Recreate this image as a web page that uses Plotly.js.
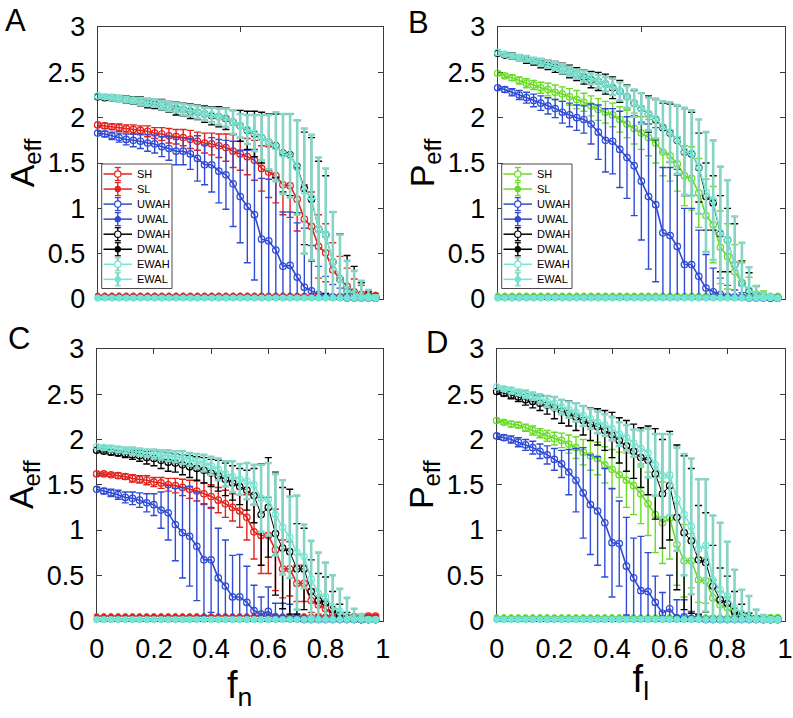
<!DOCTYPE html>
<html>
<head>
<meta charset="utf-8">
<script src="https://cdn.plot.ly/plotly-3.0.1.min.js"></script>
<style>
  html, body { margin: 0; padding: 0; background: #ffffff; }
  #chart { width: 793px; height: 718px; }
</style>
</head>
<body>
<div id="chart"></div>
<script>
// ---------------- data ----------------
const fVals = [0,0.025,0.05,0.075,0.1,0.125,0.15,0.175,0.2,0.225,0.25,0.275,0.3,0.325,0.35,0.375,0.4,0.425,0.45,0.475,
               0.5,0.525,0.55,0.575,0.6,0.625,0.65,0.675,0.7,0.725,0.75,0.775,0.8,0.825,0.85,0.875,0.9,0.925,0.95,0.975];

const seriesNames = ['SH','SL','UWAH','UWAL','DWAH','DWAL','EWAH','EWAL'];
const yTickVals = [0,0.5,1,1.5,2,2.5,3];
const yTickText = ['0','0.5','1','1.5','2','2.5','3'];
const xTickValsTop = [0,0.5,1];
const xTickValsBottom = [0,0.2,0.4,0.6,0.8,1];
const xTickTextBottom = ['0','0.2','0.4','0.6','0.8','1'];
const panelLetters = ['A','B','C','D'];

// Panel A (A_eff vs f_n)
const A_SH   = [1.92,1.91,1.90,1.89,1.88,1.87,1.86,1.85,1.83,1.82,1.80,1.79,1.78,1.76,1.74,1.72,1.71,1.69,1.67,1.63,1.60,1.57,1.53,1.44,1.40,1.36,1.26,1.25,1.10,0.88,0.80,0.58,0.51,0.32,0.22,0.14,0.08,0.05,0.04,0.03];
const A_SHe  = [0.02,0.03,0.03,0.04,0.04,0.05,0.05,0.06,0.06,0.07,0.08,0.08,0.09,0.10,0.10,0.11,0.12,0.13,0.15,0.18,0.18,0.20,0.22,0.25,0.28,0.30,0.33,0.35,0.35,0.38,0.38,0.35,0.32,0.30,0.25,0.20,0.14,0.10,0.06,0.03];
const A_SL   = [0.04,0.04,0.04,0.04,0.04,0.04,0.04,0.04,0.04,0.04,0.04,0.04,0.04,0.04,0.04,0.04,0.04,0.04,0.04,0.04,0.04,0.04,0.04,0.04,0.04,0.04,0.04,0.04,0.04,0.04,0.04,0.04,0.04,0.04,0.04,0.04,0.04,0.04,0.05,0.05];
const A_UWAH = [1.83,1.82,1.80,1.78,1.76,1.75,1.74,1.72,1.71,1.68,1.66,1.63,1.63,1.60,1.55,1.48,1.48,1.41,1.37,1.27,1.13,1.02,0.93,0.66,0.64,0.54,0.36,0.37,0.24,0.13,0.09,0.05,0.03,0.02,0.02,0.01,0.01,0.01,0.01,0.01];
const A_UWAHe= [0.02,0.03,0.04,0.05,0.06,0.07,0.08,0.09,0.10,0.11,0.13,0.15,0.15,0.17,0.25,0.22,0.30,0.35,0.38,0.47,0.51,0.62,0.72,0.67,0.68,0.80,0.60,0.59,0.60,0.65,0.50,0.31,0.22,0.14,0.10,0.05,0.03,0.02,0.02,0.01];
const A_UWAL = [0.02,0.02,0.02,0.02,0.02,0.02,0.02,0.02,0.02,0.02,0.02,0.02,0.02,0.02,0.02,0.02,0.02,0.02,0.02,0.02,0.02,0.02,0.02,0.02,0.02,0.02,0.02,0.02,0.02,0.02,0.02,0.02,0.02,0.02,0.02,0.02,0.02,0.02,0.02,0.02];
const A_DWAH = [2.23,2.22,2.22,2.21,2.20,2.19,2.18,2.16,2.15,2.14,2.12,2.10,2.09,2.07,2.06,2.04,2.02,2.01,1.99,1.95,1.91,1.86,1.82,1.78,1.73,1.69,1.61,1.59,1.46,1.22,1.10,0.77,0.71,0.41,0.22,0.10,0.06,0.03,0.02,0.01];
const A_DWAHe= [0.02,0.02,0.03,0.03,0.04,0.04,0.05,0.05,0.05,0.06,0.06,0.07,0.07,0.08,0.08,0.09,0.10,0.11,0.12,0.13,0.17,0.21,0.25,0.28,0.31,0.35,0.43,0.45,0.51,0.62,0.68,0.75,0.65,0.55,0.50,0.38,0.30,0.15,0.06,0.03];
const A_DWAL = [0.01,0.01,0.01,0.01,0.01,0.01,0.01,0.01,0.01,0.01,0.01,0.01,0.01,0.01,0.01,0.01,0.01,0.01,0.01,0.01,0.01,0.01,0.01,0.01,0.01,0.01,0.01,0.01,0.01,0.01,0.01,0.01,0.01,0.01,0.01,0.01,0.01,0.01,0.01,0.01];
const A_EWAH = [2.24,2.23,2.22,2.21,2.20,2.19,2.18,2.17,2.16,2.14,2.12,2.11,2.09,2.08,2.06,2.04,2.03,2.01,2.00,1.95,1.91,1.87,1.83,1.78,1.73,1.68,1.60,1.58,1.45,1.19,1.12,0.77,0.71,0.41,0.22,0.10,0.06,0.03,0.02,0.01];
const A_EWAHe= [0.02,0.02,0.02,0.03,0.03,0.03,0.04,0.04,0.04,0.05,0.05,0.05,0.06,0.06,0.07,0.07,0.08,0.09,0.10,0.13,0.13,0.16,0.20,0.25,0.30,0.38,0.44,0.46,0.52,0.69,0.69,0.79,0.73,0.55,0.49,0.32,0.25,0.17,0.08,0.03];
const A_EWAL = [0.01,0.01,0.01,0.01,0.01,0.01,0.01,0.01,0.01,0.01,0.01,0.01,0.01,0.01,0.01,0.01,0.01,0.01,0.01,0.01,0.01,0.01,0.01,0.01,0.01,0.01,0.01,0.01,0.01,0.01,0.01,0.01,0.01,0.01,0.01,0.01,0.01,0.01,0.01,0.01];

// Panel B (P_eff vs f_l)
const B_SH   = [2.49,2.46,2.44,2.41,2.38,2.36,2.33,2.31,2.28,2.26,2.23,2.20,2.17,2.13,2.09,2.06,2.03,1.98,1.93,1.88,1.83,1.78,1.72,1.62,1.58,1.49,1.36,1.33,1.17,0.92,0.82,0.57,0.47,0.30,0.18,0.09,0.05,0.03,0.02,0.02];
const B_SHe  = [0.02,0.02,0.03,0.04,0.05,0.05,0.06,0.07,0.08,0.08,0.09,0.10,0.10,0.11,0.12,0.12,0.13,0.14,0.15,0.17,0.18,0.20,0.22,0.26,0.28,0.30,0.33,0.35,0.38,0.40,0.42,0.40,0.36,0.30,0.22,0.15,0.10,0.06,0.03,0.02];
const B_SL   = [0.04,0.04,0.04,0.04,0.04,0.04,0.04,0.04,0.04,0.04,0.04,0.04,0.04,0.04,0.04,0.04,0.04,0.04,0.04,0.04,0.04,0.04,0.04,0.04,0.04,0.04,0.04,0.04,0.04,0.04,0.04,0.04,0.04,0.04,0.04,0.04,0.04,0.04,0.04,0.04];
const B_UWAH = [2.33,2.31,2.28,2.25,2.22,2.19,2.16,2.13,2.10,2.06,2.03,2.00,1.98,1.93,1.84,1.75,1.74,1.65,1.56,1.47,1.30,1.13,1.04,0.73,0.70,0.58,0.38,0.38,0.25,0.12,0.08,0.05,0.03,0.02,0.02,0.01,0.01,0.01,0.01,0.01];
const B_UWAHe= [0.02,0.03,0.04,0.05,0.06,0.07,0.08,0.09,0.10,0.12,0.13,0.14,0.15,0.22,0.30,0.35,0.36,0.42,0.45,0.55,0.65,0.80,0.85,0.72,0.75,0.85,0.62,0.62,0.51,0.37,0.26,0.18,0.12,0.08,0.05,0.03,0.02,0.02,0.01,0.01];
const B_UWAL = [0.02,0.02,0.02,0.02,0.02,0.02,0.02,0.02,0.02,0.02,0.02,0.02,0.02,0.02,0.02,0.02,0.02,0.02,0.02,0.02,0.02,0.02,0.02,0.02,0.02,0.02,0.02,0.02,0.02,0.02,0.02,0.02,0.02,0.02,0.02,0.02,0.02,0.02,0.02,0.02];
const B_DWAH = [2.71,2.69,2.68,2.66,2.64,2.62,2.60,2.58,2.56,2.54,2.51,2.48,2.45,2.42,2.40,2.37,2.33,2.29,2.23,2.16,2.10,2.04,1.98,1.89,1.83,1.75,1.62,1.60,1.45,1.13,1.06,0.72,0.65,0.38,0.17,0.09,0.04,0.02,0.01,0.01];
const B_DWAHe= [0.02,0.02,0.03,0.03,0.04,0.04,0.05,0.05,0.06,0.06,0.07,0.07,0.08,0.09,0.10,0.11,0.12,0.12,0.13,0.14,0.17,0.20,0.22,0.27,0.32,0.38,0.48,0.46,0.38,0.37,0.30,0.42,0.35,0.45,0.25,0.20,0.10,0.05,0.02,0.01];
const B_DWAL = [0.01,0.01,0.01,0.01,0.01,0.01,0.01,0.01,0.01,0.01,0.01,0.01,0.01,0.01,0.01,0.01,0.01,0.01,0.01,0.01,0.01,0.01,0.01,0.01,0.01,0.01,0.01,0.01,0.01,0.01,0.01,0.01,0.01,0.01,0.01,0.01,0.01,0.01,0.01,0.01];
const B_EWAH = [2.72,2.70,2.68,2.66,2.65,2.63,2.61,2.59,2.57,2.54,2.51,2.48,2.46,2.43,2.40,2.37,2.34,2.29,2.23,2.16,2.10,2.04,1.99,1.90,1.84,1.76,1.63,1.61,1.46,1.18,1.09,0.73,0.65,0.38,0.17,0.10,0.04,0.02,0.02,0.01];
const B_EWAHe= [0.02,0.02,0.02,0.03,0.03,0.03,0.04,0.04,0.04,0.05,0.05,0.05,0.06,0.06,0.07,0.08,0.09,0.10,0.12,0.15,0.17,0.18,0.22,0.28,0.33,0.38,0.48,0.47,0.52,0.66,0.66,0.73,0.66,0.53,0.45,0.25,0.10,0.05,0.02,0.01];
const B_EWAL = [0.01,0.01,0.01,0.01,0.01,0.01,0.01,0.01,0.01,0.01,0.01,0.01,0.01,0.01,0.01,0.01,0.01,0.01,0.01,0.01,0.01,0.01,0.01,0.01,0.01,0.01,0.01,0.01,0.01,0.01,0.01,0.01,0.01,0.01,0.01,0.01,0.01,0.01,0.01,0.01];

// Panel C (A_eff vs f_n)
const C_SH   = [1.62,1.62,1.61,1.60,1.59,1.57,1.56,1.55,1.53,1.52,1.50,1.49,1.47,1.45,1.43,1.40,1.37,1.33,1.29,1.25,1.21,1.14,0.98,0.94,0.94,0.78,0.57,0.57,0.41,0.41,0.22,0.17,0.13,0.08,0.05,0.04,0.04,0.04,0.05,0.05];
const C_SHe  = [0.02,0.02,0.02,0.03,0.03,0.04,0.04,0.05,0.05,0.06,0.07,0.08,0.09,0.10,0.11,0.12,0.13,0.14,0.15,0.15,0.18,0.25,0.30,0.42,0.42,0.45,0.32,0.30,0.20,0.20,0.13,0.10,0.08,0.05,0.03,0.02,0.02,0.01,0.01,0.01];
const C_SL   = [0.05,0.05,0.05,0.05,0.05,0.05,0.05,0.05,0.05,0.05,0.05,0.05,0.05,0.05,0.05,0.05,0.05,0.05,0.05,0.05,0.05,0.05,0.05,0.05,0.05,0.05,0.05,0.05,0.05,0.05,0.05,0.05,0.05,0.05,0.05,0.05,0.05,0.05,0.05,0.05];
const C_UWAH = [1.45,1.43,1.41,1.39,1.36,1.35,1.33,1.30,1.28,1.22,1.19,1.06,0.97,0.93,0.82,0.67,0.67,0.47,0.38,0.26,0.26,0.20,0.11,0.07,0.10,0.04,0.03,0.02,0.02,0.01,0.01,0.01,0.01,0.01,0.01,0.01,0.01,0.01,0.01,0.01];
const C_UWAHe= [0.02,0.03,0.04,0.05,0.06,0.07,0.08,0.10,0.12,0.20,0.30,0.40,0.50,0.55,0.60,0.62,0.58,0.55,0.51,0.46,0.47,0.40,0.28,0.19,0.27,0.15,0.16,0.16,0.05,0.03,0.02,0.02,0.01,0.01,0.01,0.01,0.01,0.01,0.01,0.01];
const C_UWAL = [0.02,0.02,0.02,0.02,0.02,0.02,0.02,0.02,0.02,0.02,0.02,0.02,0.02,0.02,0.02,0.02,0.02,0.02,0.02,0.02,0.02,0.02,0.02,0.02,0.02,0.02,0.02,0.02,0.02,0.02,0.02,0.02,0.02,0.02,0.02,0.02,0.02,0.02,0.02,0.02];
const C_DWAH = [1.88,1.87,1.86,1.85,1.84,1.83,1.82,1.80,1.79,1.77,1.75,1.74,1.72,1.70,1.68,1.66,1.63,1.60,1.56,1.52,1.48,1.44,1.38,1.17,1.25,0.96,0.80,0.76,0.57,0.57,0.32,0.22,0.20,0.12,0.06,0.03,0.02,0.01,0.01,0.01];
const C_DWAHe= [0.02,0.02,0.03,0.03,0.04,0.05,0.06,0.07,0.08,0.09,0.10,0.10,0.11,0.12,0.13,0.14,0.15,0.17,0.18,0.19,0.20,0.22,0.30,0.56,0.55,0.68,0.67,0.69,0.50,0.45,0.35,0.30,0.28,0.20,0.12,0.06,0.03,0.02,0.01,0.01];
const C_DWAL = [0.01,0.01,0.01,0.01,0.01,0.01,0.01,0.01,0.01,0.01,0.01,0.01,0.01,0.01,0.01,0.01,0.01,0.01,0.01,0.01,0.01,0.01,0.01,0.01,0.01,0.01,0.01,0.01,0.01,0.01,0.01,0.01,0.01,0.01,0.01,0.01,0.01,0.01,0.01,0.01];
const C_EWAH = [1.92,1.91,1.90,1.89,1.88,1.87,1.86,1.85,1.84,1.83,1.82,1.81,1.80,1.78,1.76,1.74,1.71,1.67,1.62,1.59,1.56,1.54,1.50,1.35,1.34,1.17,1.03,0.92,0.75,0.71,0.46,0.30,0.26,0.15,0.10,0.05,0.03,0.02,0.01,0.01];
const C_EWAHe= [0.02,0.02,0.03,0.03,0.03,0.04,0.04,0.04,0.05,0.05,0.06,0.06,0.07,0.07,0.08,0.09,0.10,0.12,0.14,0.17,0.17,0.20,0.22,0.37,0.40,0.45,0.52,0.45,0.63,0.35,0.42,0.45,0.38,0.35,0.25,0.20,0.10,0.05,0.02,0.01];
const C_EWAL = [0.01,0.01,0.01,0.01,0.01,0.01,0.01,0.01,0.01,0.01,0.01,0.01,0.01,0.01,0.01,0.01,0.01,0.01,0.01,0.01,0.01,0.01,0.01,0.01,0.01,0.01,0.01,0.01,0.01,0.01,0.01,0.01,0.01,0.01,0.01,0.01,0.01,0.01,0.01,0.01];

// Panel D (P_eff vs f_l)
const D_SH   = [2.21,2.19,2.17,2.16,2.13,2.10,2.07,2.04,2.01,1.99,1.95,1.91,1.86,1.82,1.79,1.72,1.67,1.61,1.55,1.49,1.40,1.29,1.17,1.08,1.13,0.84,0.66,0.66,0.45,0.44,0.25,0.17,0.14,0.06,0.03,0.02,0.02,0.02,0.03,0.03];
const D_SHe  = [0.02,0.02,0.03,0.03,0.04,0.05,0.05,0.06,0.07,0.08,0.10,0.12,0.14,0.16,0.18,0.20,0.22,0.25,0.30,0.32,0.33,0.35,0.42,0.45,0.45,0.45,0.40,0.30,0.25,0.25,0.20,0.15,0.12,0.08,0.04,0.02,0.02,0.01,0.01,0.01];
const D_SL   = [0.04,0.04,0.04,0.04,0.04,0.04,0.04,0.04,0.04,0.04,0.04,0.04,0.04,0.04,0.04,0.04,0.04,0.04,0.04,0.04,0.04,0.04,0.04,0.04,0.04,0.04,0.04,0.04,0.04,0.04,0.04,0.04,0.04,0.04,0.04,0.04,0.04,0.04,0.04,0.04];
const D_UWAH = [2.04,2.02,2.00,1.97,1.94,1.91,1.87,1.83,1.78,1.73,1.64,1.55,1.41,1.28,1.21,1.08,0.86,0.85,0.60,0.47,0.33,0.32,0.20,0.08,0.13,0.03,0.04,0.02,0.02,0.01,0.01,0.01,0.01,0.01,0.01,0.01,0.01,0.01,0.01,0.01];
const D_UWAHe= [0.02,0.03,0.04,0.05,0.06,0.07,0.08,0.10,0.12,0.15,0.25,0.35,0.50,0.55,0.60,0.60,0.60,0.47,0.54,0.44,0.60,0.43,0.29,0.23,0.37,0.20,0.19,0.08,0.04,0.02,0.02,0.01,0.01,0.01,0.01,0.01,0.01,0.01,0.01,0.01];
const D_UWAL = [0.02,0.02,0.02,0.02,0.02,0.02,0.02,0.02,0.02,0.02,0.02,0.02,0.02,0.02,0.02,0.02,0.02,0.02,0.02,0.02,0.02,0.02,0.02,0.02,0.02,0.02,0.02,0.02,0.02,0.02,0.02,0.02,0.02,0.02,0.02,0.02,0.02,0.02,0.02,0.02];
const D_DWAH = [2.53,2.51,2.49,2.47,2.44,2.42,2.40,2.38,2.35,2.31,2.29,2.25,2.21,2.17,2.14,2.10,2.05,1.99,1.93,1.87,1.80,1.77,1.62,1.40,1.49,1.14,0.97,0.88,0.67,0.64,0.38,0.23,0.19,0.10,0.06,0.03,0.02,0.01,0.01,0.01];
const D_DWAHe= [0.02,0.03,0.04,0.05,0.06,0.07,0.08,0.10,0.12,0.13,0.14,0.15,0.16,0.18,0.20,0.22,0.25,0.25,0.28,0.30,0.33,0.38,0.50,0.60,0.60,0.80,0.85,0.80,0.60,0.55,0.45,0.35,0.30,0.22,0.12,0.05,0.03,0.02,0.01,0.01];
const D_DWAL = [0.01,0.01,0.01,0.01,0.01,0.01,0.01,0.01,0.01,0.01,0.01,0.01,0.01,0.01,0.01,0.01,0.01,0.01,0.01,0.01,0.01,0.01,0.01,0.01,0.01,0.01,0.01,0.01,0.01,0.01,0.01,0.01,0.01,0.01,0.01,0.01,0.01,0.01,0.01,0.01];
const D_EWAH = [2.58,2.56,2.54,2.52,2.50,2.48,2.45,2.42,2.40,2.36,2.33,2.30,2.26,2.23,2.19,2.16,2.12,2.06,2.02,1.96,1.90,1.85,1.72,1.60,1.61,1.34,1.17,1.04,0.79,0.83,0.45,0.34,0.27,0.14,0.08,0.04,0.02,0.01,0.01,0.01];
const D_EWAHe= [0.02,0.02,0.03,0.03,0.04,0.04,0.05,0.06,0.07,0.08,0.09,0.10,0.11,0.11,0.12,0.12,0.13,0.13,0.14,0.15,0.20,0.27,0.34,0.46,0.45,0.57,0.67,0.75,0.77,0.73,0.71,0.74,0.60,0.42,0.26,0.23,0.10,0.05,0.02,0.01];
const D_EWAL = [0.01,0.01,0.01,0.01,0.01,0.01,0.01,0.01,0.01,0.01,0.01,0.01,0.01,0.01,0.01,0.01,0.01,0.01,0.01,0.01,0.01,0.01,0.01,0.01,0.01,0.01,0.01,0.01,0.01,0.01,0.01,0.01,0.01,0.01,0.01,0.01,0.01,0.01,0.01,0.01];

// ---------------- styling ----------------
const RED = '#e3221d', GREEN = '#68dc26', BLUE = '#2f4bd6', BLACK = '#000000', CYAN = '#72e6d3';
const CYAN_ERR = '#86d4c4';
const FONT = 'Liberation Sans, Arial, Helvetica, sans-serif';
const W = 793, H = 718;
const px = x => x / W;
const py = y => 1 - y / H;

// panel rectangles in pixels: [left, right, top, bottom]
const boxes = [[97.7,382.7,27,299],[497.7,785,27,299],[96.7,382.7,349,620.5],[496.7,785,349,620.5]];

const panels = [
  {H1:[A_SH,A_SHe], L1:A_SL, U:[A_UWAH,A_UWAHe], UL:A_UWAL, Dw:[A_DWAH,A_DWAHe], DL:A_DWAL, E:[A_EWAH,A_EWAHe], EL:A_EWAL, sc:RED},
  {H1:[B_SH,B_SHe], L1:B_SL, U:[B_UWAH,B_UWAHe], UL:B_UWAL, Dw:[B_DWAH,B_DWAHe], DL:B_DWAL, E:[B_EWAH,B_EWAHe], EL:B_EWAL, sc:GREEN},
  {H1:[C_SH,C_SHe], L1:C_SL, U:[C_UWAH,C_UWAHe], UL:C_UWAL, Dw:[C_DWAH,C_DWAHe], DL:C_DWAL, E:[C_EWAH,C_EWAHe], EL:C_EWAL, sc:RED},
  {H1:[D_SH,D_SHe], L1:D_SL, U:[D_UWAH,D_UWAHe], UL:D_UWAL, Dw:[D_DWAH,D_DWAHe], DL:D_DWAL, E:[D_EWAH,D_EWAHe], EL:D_EWAL, sc:GREEN}
];

function hTrace(name, pair, color, errColor, errThick, lw, k) {
  const y = pair[0], e = pair[1];
  return {
    type: 'scatter', mode: 'lines+markers', name: name, x: fVals, y: y,
    xaxis: k === 0 ? 'x' : 'x' + (k + 1), yaxis: k === 0 ? 'y' : 'y' + (k + 1),
    line: {color: color, width: lw},
    marker: {symbol: 'circle-open', size: 6.5, color: color, line: {width: 1.2, color: color}},
    error_y: {type: 'data', symmetric: false, array: e, arrayminus: e.map((v, i) => Math.min(v, y[i])),
              color: errColor, thickness: errThick, width: 3.5},
    cliponaxis: false, showlegend: false, hoverinfo: 'skip'
  };
}
function lTrace(name, y, color, k, size) {
  return {
    type: 'scatter', mode: 'lines+markers', name: name, x: fVals, y: y,
    xaxis: k === 0 ? 'x' : 'x' + (k + 1), yaxis: k === 0 ? 'y' : 'y' + (k + 1),
    line: {color: color, width: 1.5},
    marker: {symbol: 'circle', size: size, color: color, line: {width: 0.8, color: color}},
    cliponaxis: false, showlegend: false, hoverinfo: 'skip'
  };
}

const traces = [];
panels.forEach((p, k) => {
  traces.push(hTrace('SH', p.H1, p.sc, p.sc, 1.4, 1.6, k));
  traces.push(lTrace('SL', p.L1, p.sc, k, 5));
  traces.push(hTrace('UWAH', p.U, BLUE, BLUE, 1.4, 1.6, k));
  traces.push(lTrace('UWAL', p.UL, BLUE, k, 5));
  traces.push(hTrace('DWAH', p.Dw, BLACK, BLACK, 1.4, 1.0, k));
  traces.push(lTrace('DWAL', p.DL, BLACK, k, 5));
  traces.push(hTrace('EWAH', p.E, CYAN, CYAN_ERR, 2.6, 1.6, k));
  traces.push(lTrace('EWAL', p.EL, CYAN, k, 6.5));
});

// ---------------- axes ----------------
const layout = {
  width: W, height: H, margin: {l: 0, r: 0, t: 0, b: 0},
  paper_bgcolor: '#ffffff', plot_bgcolor: '#ffffff',
  font: {family: FONT, color: '#000000'},
  showlegend: false, annotations: [], shapes: []
};
const yTitles = ['A<sub>eff</sub>','P<sub>eff</sub>','A<sub>eff</sub>','P<sub>eff</sub>'];
const xTitles = [null, null, 'f<sub>n</sub>', 'f<sub>l</sub>'];
boxes.forEach((b, k) => {
  const xs = k === 0 ? 'xaxis' : 'xaxis' + (k + 1);
  const ys = k === 0 ? 'yaxis' : 'yaxis' + (k + 1);
  const bottom = k >= 2;
  const xa = {
    domain: [px(b[0]), px(b[1])], anchor: k === 0 ? 'y' : 'y' + (k + 1),
    range: [0, 1], showgrid: false, zeroline: false,
    showline: true, mirror: 'ticks', linecolor: '#3a3a3a', linewidth: 1,
    ticks: 'inside', ticklen: 5, tickwidth: 1, tickcolor: '#3a3a3a',
    tickmode: 'array', tickvals: bottom ? xTickValsBottom : xTickValsTop,
    showticklabels: bottom,
    layer: 'below traces', fixedrange: true
  };
  if (bottom) {
    xa.ticktext = xTickTextBottom;
    xa.ticklabelstandoff = 4;
    xa.tickfont = {family: FONT, size: 27, color: '#000'};
    xa.title = {text: xTitles[k], font: {family: FONT, size: 38, color: '#000'}, standoff: 2};
  }
  layout[xs] = xa;
  layout[ys] = {
    domain: [py(b[3]), py(b[2])], anchor: k === 0 ? 'x' : 'x' + (k + 1),
    range: [0, 3], showgrid: false, zeroline: false,
    showline: true, mirror: 'ticks', linecolor: '#3a3a3a', linewidth: 1,
    ticks: 'inside', ticklen: 5, tickwidth: 1, tickcolor: '#3a3a3a',
    tickmode: 'array', tickvals: yTickVals, ticktext: yTickText, ticklabelstandoff: 6,
    tickfont: {family: FONT, size: 27, color: '#000'},
    title: {text: yTitles[k], font: {family: FONT, size: 34, color: '#000'}, standoff: 2},
    layer: 'below traces', fixedrange: true
  };
});

// panel letters (top-anchored so the text box stays inside the page)
const letterPos = [[3, 1], [406, 3], [6, 319], [424, 323]];
panelLetters.forEach((t, k) => {
  layout.annotations.push({text: t, xref: 'paper', yref: 'paper', x: px(letterPos[k][0]), y: py(letterPos[k][1]),
    xanchor: 'left', yanchor: 'top', showarrow: false, font: {family: FONT, size: 31, color: '#000'}});
});

// legends (panels A and B), drawn in paper space
const legendColors = [[RED, RED, BLUE, BLUE, BLACK, BLACK, CYAN, CYAN], [GREEN, GREEN, BLUE, BLUE, BLACK, BLACK, CYAN, CYAN]];
const legendOpen = [true, false, true, false, true, false, true, false];
[0, 1].forEach(k => {
  const ox = k === 0 ? 0 : 400;
  const bx0 = 101.7 + ox, bx1 = 172 + ox, by0 = 164, by1 = 288.5;
  layout.shapes.push({type: 'rect', xref: 'paper', yref: 'paper', x0: px(bx0), x1: px(bx1), y0: py(by1), y1: py(by0),
    fillcolor: '#ffffff', line: {color: '#4a4a4a', width: 1}, layer: 'above'});
  seriesNames.forEach((nm, i) => {
    const cy = 174 + 15.05 * i, cx = 117.8 + ox, col = legendColors[k][i];
    const ecol = (i >= 6) ? CYAN_ERR : col;
    layout.shapes.push({type: 'line', xref: 'paper', yref: 'paper', x0: px(103.5 + ox), x1: px(132 + ox), y0: py(cy), y1: py(cy), line: {color: col, width: 1.5}, layer: 'above'});
    layout.shapes.push({type: 'line', xref: 'paper', yref: 'paper', x0: px(cx), x1: px(cx), y0: py(cy - 6.5), y1: py(cy + 6.5), line: {color: ecol, width: i >= 6 ? 2.4 : 1.4}, layer: 'above'});
    layout.shapes.push({type: 'line', xref: 'paper', yref: 'paper', x0: px(cx - 3), x1: px(cx + 3), y0: py(cy - 6.5), y1: py(cy - 6.5), line: {color: ecol, width: 1.3}, layer: 'above'});
    layout.shapes.push({type: 'line', xref: 'paper', yref: 'paper', x0: px(cx - 3), x1: px(cx + 3), y0: py(cy + 6.5), y1: py(cy + 6.5), line: {color: ecol, width: 1.3}, layer: 'above'});
    const r = legendOpen[i] ? 3.2 : 2.6;
    layout.shapes.push({type: 'circle', xref: 'paper', yref: 'paper', x0: px(cx - r), x1: px(cx + r), y0: py(cy + r), y1: py(cy - r),
      fillcolor: legendOpen[i] ? '#ffffff' : col, line: {color: col, width: 1.2}, layer: 'above'});
    layout.annotations.push({text: nm, xref: 'paper', yref: 'paper', x: px(134.5 + ox), y: py(cy), xanchor: 'left', yanchor: 'middle',
      showarrow: false, font: {family: FONT, size: 11, color: '#000'}});
  });
});

Plotly.newPlot('chart', traces, layout, {staticPlot: true, displayModeBar: false});
</script>
</body>
</html>
